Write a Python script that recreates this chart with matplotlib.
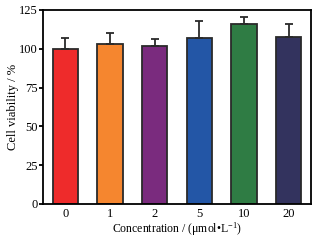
import matplotlib
matplotlib.use("Agg")
import matplotlib.pyplot as plt

categories = ["0", "1", "2", "5", "10", "20"]
values = [100.0, 103.0, 101.6, 106.7, 116.2, 107.4]
errors = [7.0, 7.0, 4.7, 11.3, 4.6, 8.3]
colors = ["#EE2B2B", "#F5862F", "#7A2B7E", "#2356A6", "#2F7C44", "#33335E"]

plt.rcParams['font.family'] = ['Liberation Serif', 'DejaVu Serif']
plt.rcParams['mathtext.fontset'] = 'custom'
plt.rcParams['mathtext.rm'] = 'Liberation Serif'
plt.rcParams['mathtext.it'] = 'Liberation Serif:italic'
fig = plt.figure(figsize=(3.19, 2.42), dpi=100)
ax = fig.add_axes([43/319, 1-204/242, 268/319, 194/242])
x = list(range(len(categories)))
ax.bar(x, values, width=0.56, color=colors, edgecolor="#2a2a2a", linewidth=1.3, zorder=2)
ax.errorbar(x, values, yerr=[[0]*len(errors), errors], fmt='none', ecolor="#2a2a2a",
            elinewidth=1.3, capsize=3, capthick=1.3, zorder=3)
ax.set_xlim(-0.5, 5.5)
ax.set_ylim(0, 125)
ax.set_yticks([0, 25, 50, 75, 100, 125])
ax.set_xticks(x)
ax.set_xticklabels(categories)
ax.tick_params(axis='x', direction='in', length=4, width=1.3, labelsize=9, pad=3, color="#2a2a2a")
ax.tick_params(axis='y', direction='out', length=3, width=1.3, labelsize=9, pad=1)
for s in ax.spines.values():
    s.set_linewidth(1.3)
ax.set_ylabel("Cell viability / %", fontsize=9, labelpad=0)
ax.set_xlabel("Concentration / (\u03bcmol\u2022L$^{\\mathrm{-1}}$)", fontsize=8.5, labelpad=0)
fig.savefig("out.png", dpi=100)
